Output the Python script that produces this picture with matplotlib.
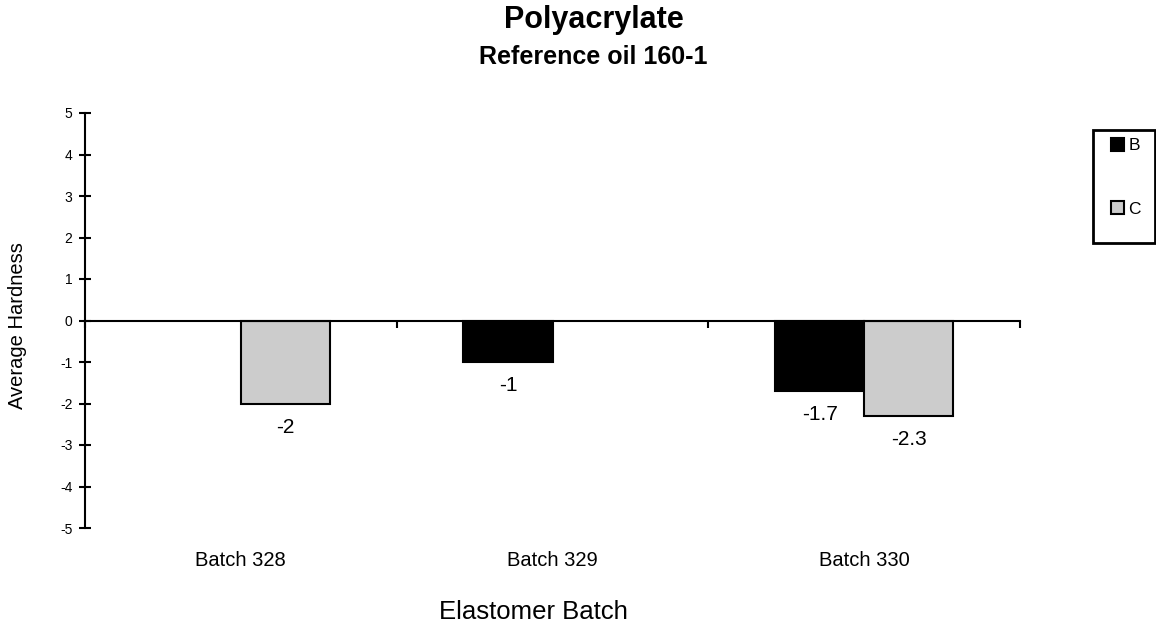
import matplotlib.pyplot as plt
from matplotlib.patches import Rectangle
import numpy as np

plt.rcParams['font.family'] = ['Liberation Sans', 'DejaVu Sans']
plt.rcParams['axes.unicode_minus'] = False

batches = ['Batch 328', 'Batch 329', 'Batch 330']
series_b = [np.nan, -1, -1.7]
series_c = [-2, np.nan, -2.3]
b_labels = ['', '-1', '-1.7']
c_labels = ['-2', '', '-2.3']

W, H = 1156, 628
fig = plt.figure(figsize=(W / 100, H / 100), dpi=100)
ax = fig.add_axes([85 / W, 100 / H, 935 / W, 415 / H])

x = np.arange(len(batches)) + 0.5
w = 1 / 3.5

bars_b = ax.bar(x - w / 2, series_b, w, color='black', edgecolor='black', lw=1.5, label='B')
bars_c = ax.bar(x + w / 2, series_c, w, color='#cccccc', edgecolor='black', lw=1.5, label='C')

# value labels under each bar
for bars, labs in [(bars_b, b_labels), (bars_c, c_labels)]:
    for rect, lab in zip(bars, labs):
        if lab:
            ax.annotate(lab, (rect.get_x() + rect.get_width() / 2, rect.get_height()),
                        xytext=(0, -17), textcoords='offset points',
                        ha='center', va='center', fontsize=15)

ax.set_xlim(0, 3)
ax.set_ylim(-5, 5)
ax.set_yticks(range(-5, 6))
ax.tick_params(axis='y', direction='inout', length=8, width=1.5, labelsize=10, pad=5)
ax.set_xticks([0, 1, 2, 3])
ax.set_xticklabels([])
ax.tick_params(axis='x', direction='out', length=5, width=1.5)

for s in ['top', 'right']:
    ax.spines[s].set_visible(False)
ax.spines['bottom'].set_position(('data', 0))
ax.spines['left'].set_linewidth(1.5)
ax.spines['bottom'].set_linewidth(1.5)

# category names sit at the bottom of the plot, not on the zero line
for xi, name in zip(x, batches):
    ax.text(xi, -33 / 415, name, ha='center', va='center', fontsize=14.5,
            transform=ax.get_xaxis_transform())

fig.text(18 / W, 1 - 326 / H, 'Average Hardness', rotation=90, ha='center', va='center', fontsize=14.5)
fig.text(533 / W, 1 - 612 / H, 'Elastomer Batch', ha='center', va='center', fontsize=18.5)

fig.text(594 / W, 1 - 20 / H, 'Polyacrylate', ha='center', va='center', fontsize=22, fontweight='bold')
fig.text(593 / W, 1 - 57 / H, 'Reference oil 160-1', ha='center', va='center', fontsize=18, fontweight='bold')

# legend box drawn separately (Excel style, uneven padding)
fig.patches.append(Rectangle((1093 / W, 1 - 243 / H), 62 / W, 113 / H, transform=fig.transFigure,
                             fill=False, edgecolor='black', lw=2))
leg = fig.legend(handles=[bars_b, bars_c], loc='upper left', bbox_to_anchor=(1111 / W, 1 - 138 / H),
                 frameon=False, fontsize=12.5, handlelength=0.75, handleheight=0.75,
                 handletextpad=0.25, labelspacing=2.75, borderpad=0, borderaxespad=0)

fig.savefig('out.png', dpi=100)
